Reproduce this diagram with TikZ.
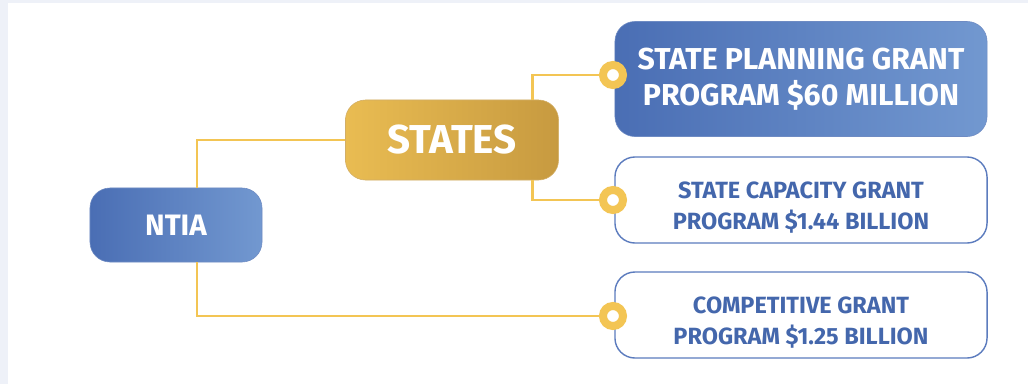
\documentclass[tikz,border=0pt]{standalone}
\usepackage{fontspec}
\setmainfont{Fira Sans}
\definecolor{ntiablue}{RGB}{74, 110, 180}
\definecolor{ntialight}{RGB}{114, 152, 208}
\definecolor{goldleft}{RGB}{233, 188, 82}
\definecolor{goldright}{RGB}{199, 154, 64}
\definecolor{linkgold}{RGB}{243, 197, 84}
\definecolor{textblue}{RGB}{68, 103, 172}
\definecolor{edgeblue}{RGB}{92, 124, 190}
\definecolor{bgband}{RGB}{238, 241, 248}
\usetikzlibrary{positioning, calc}

\begin{document}
\begin{tikzpicture}[x=0.025cm, y=-0.025cm]
  \tikzset{
    box/.style={rounded corners=0.5cm, align=center, inner sep=0pt, font=\bfseries},
    bluebox/.style={box, draw=ntiablue!80, left color=ntiablue, right color=ntialight, text=white},
    whitebox/.style={box, draw=edgeblue, line width=1pt, fill=white, text=textblue, text height=44pt,
      minimum width=9.3cm, minimum height=2.15cm, font=\bfseries\fontsize{16.7}{22}\selectfont},
    link/.style={draw=linkgold, line width=2.1pt},
    dot/.style={circle, draw=linkgold, line width=0.2cm, fill=white, minimum size=0.5cm, inner sep=0pt}
  }
  % Frame
  \fill[bgband] (0,0) rectangle (1028,384);
  \fill[white] (8,3) rectangle (1028,384);
  \useasboundingbox (0,0) rectangle (1028,384);

  % Boxes
  \node[bluebox, minimum width=4.3cm, minimum height=1.85cm, font=\bfseries\fontsize{21}{24}\selectfont] (ntia) at (176, 225) {NTIA};

  \node[box, draw=goldright!80, left color=goldleft, right color=goldright, text=white,
    minimum width=5.325cm, minimum height=2cm, font=\bfseries\fontsize{28.7}{32}\selectfont] (states) at (452, 140) {STATES};

  \node[bluebox, minimum width=9.3cm, minimum height=2.875cm, font=\bfseries\fontsize{21.5}{26}\selectfont] (planning) at (801, 79) {STATE PLANNING GRANT\\PROGRAM \$60 MILLION};

  \node[whitebox] (capacity) at (801, 200) {STATE CAPACITY GRANT\\PROGRAM \$1.44 BILLION};

  \node[whitebox] (competitive) at (801, 315) {COMPETITIVE GRANT\\PROGRAM \$1.25 BILLION};

  % Connectors
  \node[dot] (dota) at (613, 75) {};
  \node[dot] (dotb) at (613, 200) {};
  \node[dot] (dotc) at (613, 316) {};

  \draw[link] ([xshift=0.525cm]ntia.north) |- (states.west);
  \draw[link] ([xshift=0.525cm]ntia.south) |- (dotc.west);
  \draw[link] ([xshift=2cm]states.north) |- (dota.west);
  \draw[link] ([xshift=2cm]states.south) |- (dotb.west);
\end{tikzpicture}
\end{document}
